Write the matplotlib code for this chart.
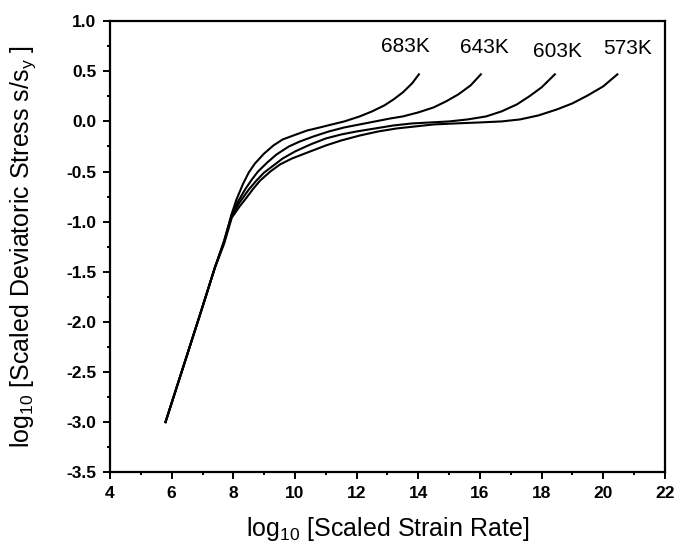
import matplotlib
matplotlib.use("Agg")
import matplotlib.pyplot as plt
from matplotlib.ticker import MultipleLocator

plt.rcParams['font.family'] = ['Liberation Sans', 'DejaVu Sans']
plt.rcParams['mathtext.default'] = 'regular'

# shared low-rate (linear) branch
x_common = [5.8, 6.5, 7.0, 7.4]
y_common = [-3.0, -2.33, -1.85, -1.46]

x_683 = [7.7, 7.95, 8.1, 8.32, 8.5, 8.7, 9.0, 9.3, 9.6, 9.95, 10.4, 10.81, 11.2, 11.6,
         12.1, 12.5, 12.9, 13.2, 13.5, 13.8, 14.02]
y_683 = [-1.19, -0.92, -0.78, -0.62, -0.51, -0.42, -0.32, -0.24, -0.18, -0.14, -0.09, -0.06,
         -0.03, 0.0, 0.05, 0.10, 0.16, 0.22, 0.29, 0.38, 0.47]

x_643 = [7.7, 7.95, 8.15, 8.4, 8.6, 8.8, 9.1, 9.4, 9.8, 10.16, 10.6, 11.1, 11.6, 12.1,
         12.6, 13.1, 13.5, 14.0, 14.5, 14.9, 15.3, 15.7, 16.03]
y_643 = [-1.20, -0.93, -0.80, -0.67, -0.58, -0.50, -0.41, -0.33, -0.25, -0.20, -0.15, -0.10,
         -0.06, -0.03, 0.0, 0.03, 0.05, 0.09, 0.14, 0.20, 0.27, 0.36, 0.47]

x_603 = [7.7, 7.95, 8.2, 8.5, 8.75, 9.0, 9.3, 9.6, 10.0, 10.5, 11.0, 11.5, 12.0, 12.6,
         13.2, 13.8, 14.4, 15.0, 15.6, 16.2, 16.7, 17.2, 17.6, 18.0, 18.43]
y_603 = [-1.21, -0.94, -0.81, -0.68, -0.59, -0.51, -0.44, -0.37, -0.30, -0.23, -0.17, -0.13,
         -0.10, -0.07, -0.04, -0.02, -0.01, 0.0, 0.02, 0.05, 0.10, 0.17, 0.25, 0.34, 0.47]

x_573 = [7.7, 7.95, 8.2, 8.43, 8.65, 8.87, 9.2, 9.51, 9.9, 10.49, 11.0, 11.5, 12.11, 12.7,
         13.3, 13.9, 14.5, 15.2, 16.0, 16.7, 17.3, 17.9, 18.5, 19.0, 19.5, 20.0, 20.46]
y_573 = [-1.22, -0.96, -0.85, -0.76, -0.67, -0.59, -0.50, -0.43, -0.37, -0.30, -0.24, -0.19,
         -0.14, -0.10, -0.07, -0.05, -0.03, -0.02, -0.01, 0.0, 0.02, 0.06, 0.12, 0.18, 0.26,
         0.35, 0.47]

labels = ["683K", "643K", "603K", "573K"]
label_x = [13.57, 16.16, 18.53, 20.8]
label_y = [0.69, 0.68, 0.64, 0.67]

fig = plt.figure(figsize=(6.75, 5.44), dpi=100)
ax = fig.add_axes([0.163, 0.132, 0.822, 0.829])

for xs, ys in [(x_683, y_683), (x_643, y_643), (x_603, y_603), (x_573, y_573)]:
    ax.plot(x_common + xs, y_common + ys, color='black', lw=1.5)

for t, lx, ly in zip(labels, label_x, label_y):
    ax.text(lx, ly, t, ha='center', va='baseline', fontsize=15)

ax.set_xlim(4, 22)
ax.set_ylim(-3.5, 1.0)
ax.xaxis.set_major_locator(MultipleLocator(2))
ax.xaxis.set_minor_locator(MultipleLocator(1))
ax.yaxis.set_major_locator(MultipleLocator(0.5))
ax.yaxis.set_minor_locator(MultipleLocator(0.25))
ax.yaxis.set_major_formatter(plt.FormatStrFormatter('%.1f'))

for s in ax.spines.values():
    s.set_linewidth(1.6)
ax.tick_params(which='both', direction='out', width=1.4, top=False, right=False)
ax.tick_params(which='major', length=4.7, labelsize=12.5, pad=5)
ax.tick_params(which='minor', length=2.5)
for lab in ax.get_xticklabels() + ax.get_yticklabels():
    lab.set_fontweight('bold')

ax.set_xlabel('log$_{10}$ [Scaled Strain Rate]', fontsize=18)
ax.set_ylabel('log$_{10}$ [Scaled Deviatoric Stress s/s$_y$ ]', fontsize=18)
ax.xaxis.set_label_coords(0.5, -0.095)
ax.yaxis.set_label_coords(-0.13, 0.5)

fig.savefig('out.png', dpi=100)
